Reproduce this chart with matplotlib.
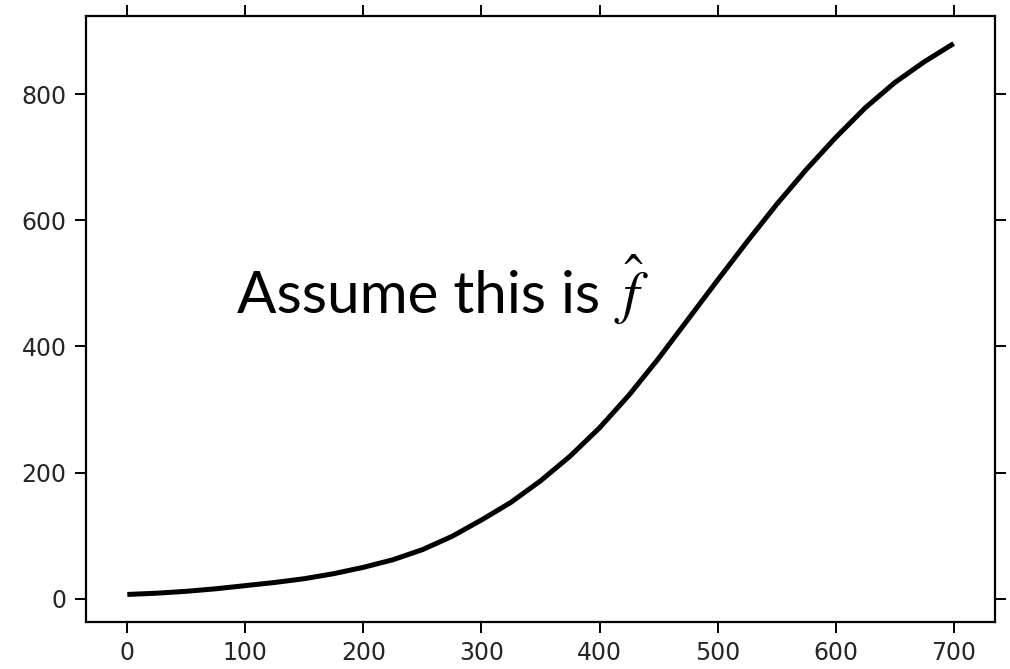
import matplotlib
matplotlib.use("Agg")
import matplotlib.pyplot as plt

# Data
x_vals = [0, 25, 50, 75, 100, 125, 150, 175, 200, 225, 250, 275, 300, 325, 350,
          375, 400, 425, 450, 475, 500, 525, 550, 575, 600, 625, 650, 675, 700]
y_vals = [7, 9, 12, 16, 21, 26, 32, 40, 50, 62, 78, 99, 125, 153, 187,
          226, 271, 323, 381, 443, 505, 566, 625, 680, 731, 778, 818, 851, 880]
x_ticks = [0, 100, 200, 300, 400, 500, 600, 700]
y_ticks = [0, 200, 400, 600, 800]
label_text = "Assume this is"
math_text = r"$\hat{f}$"

W, H = 1010, 669
fig = plt.figure(figsize=(W / 100, H / 100), dpi=100)
ax = fig.add_axes([86 / W, 1 - 622 / H, (995 - 86) / W, (622 - 16) / H])

ax.plot(x_vals, y_vals, color="black", linewidth=3.6, solid_capstyle="butt",
        solid_joinstyle="round")
ax.set_xticks(x_ticks)
ax.set_yticks(y_ticks)
ax.margins(0.05)

ax.tick_params(axis="both", which="both", direction="out", length=8, width=1.4,
               labelsize=17, pad=6, colors="black", labelcolor="#262626",
               top=True, right=True, labeltop=False, labelright=False)
for s in ax.spines.values():
    s.set_linewidth(1.6)

fig.text(237 / W, 1 - 313 / H, label_text, fontsize=42, family="Lato",
         va="baseline", ha="left", color="black")
plt.rcParams["mathtext.fontset"] = "stix"
fig.text(614 / W, 1 - 313 / H, math_text, fontsize=42, va="baseline",
         ha="left", color="black")

fig.savefig("out.png", dpi=100)
